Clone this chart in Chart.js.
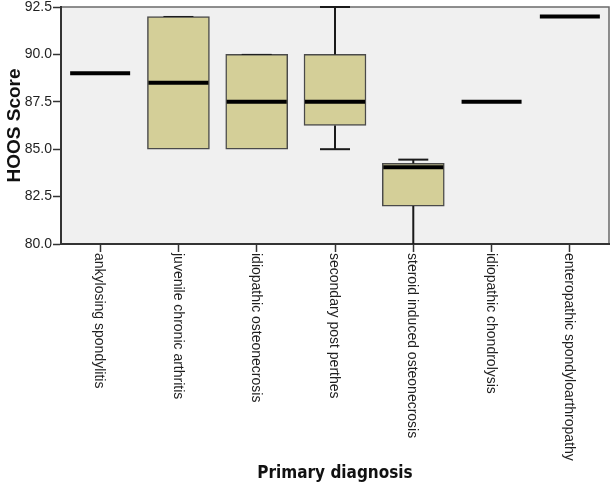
<!DOCTYPE html>
<html lang="en">
<head>
    <title>HOOS Score by Primary diagnosis</title>
    <script src="https://cdn.jsdelivr.net/npm/chart.js"></script>
    <style>
        body { margin: 0; background: #ffffff; }
    </style>
</head>
<body>
    <canvas id="myChart" width="615" height="489"></canvas>
    <script>
        const diagnoses = [
            'ankylosing spondylitis',
            'juvenile chronic arthritis',
            'idiopathic osteonecrosis',
            'secondary post perthes',
            'steroid induced osteonecrosis',
            'idiopathic chondrolysis',
            'enteropathic spondyloarthropathy'
        ];
        // box plot summaries (null = no box, one case only)
        const minValues = [89, 85, 85, 85, 80, 87.5, 92];
        const q1Values = [null, 85, 85, 86.25, 82, null, null];
        const medianValues = [89, 88.5, 87.5, 87.5, 84.05, 87.5, 92];
        const q3Values = [null, 92, 90, 90, 84.25, null, null];
        const maxValues = [89, 92, 90, 92.5, 84.45, 87.5, 92];
        const yTicks = [80, 82.5, 85, 87.5, 90, 92.5];

        const boxFill = '#d4cf98';
        const tickFont = '14px "Liberation Sans", Arial, sans-serif';

        // grey plot panel with a thin frame
        const panelPlugin = {
            id: 'panel',
            beforeDraw(chart) {
                const { ctx, chartArea: a } = chart;
                ctx.save();
                ctx.fillStyle = '#f0f0f0';
                ctx.fillRect(a.left, a.top, a.right - a.left, a.bottom - a.top);
                ctx.strokeStyle = '#6a6a6a';
                ctx.lineWidth = 1.5;
                ctx.strokeRect(a.left, a.top, a.right - a.left, a.bottom - a.top);
                ctx.restore();
            }
        };

        // whiskers, caps and medians
        const boxPlugin = {
            id: 'boxes',
            afterDatasetsDraw(chart) {
                const { ctx } = chart;
                const x = chart.scales.x, y = chart.scales.y;
                ctx.save();
                diagnoses.forEach((d, i) => {
                    const cx = x.getPixelForTick(i);
                    if (q1Values[i] !== null) {
                        const top = y.getPixelForValue(maxValues[i]);
                        const bottom = y.getPixelForValue(minValues[i]);
                        ctx.strokeStyle = '#1a1a1a';
                        ctx.lineWidth = 2;
                        ctx.beginPath();
                        ctx.moveTo(cx, y.getPixelForValue(q3Values[i]));
                        ctx.lineTo(cx, top);
                        ctx.moveTo(cx, y.getPixelForValue(q1Values[i]));
                        ctx.lineTo(cx, bottom);
                        ctx.stroke();
                        // caps; thinner where they sit on the box edge
                        ctx.lineWidth = maxValues[i] > q3Values[i] ? 2 : 1;
                        ctx.beginPath();
                        ctx.moveTo(cx - 15, top);
                        ctx.lineTo(cx + 15, top);
                        ctx.stroke();
                        if (minValues[i] < q1Values[i] && minValues[i] > y.min) {
                            ctx.lineWidth = 2;
                            ctx.beginPath();
                            ctx.moveTo(cx - 15, bottom);
                            ctx.lineTo(cx + 15, bottom);
                            ctx.stroke();
                        }
                    }
                    ctx.strokeStyle = '#000';
                    ctx.lineWidth = 4;
                    ctx.beginPath();
                    const my = y.getPixelForValue(medianValues[i]);
                    ctx.moveTo(cx - 30, my);
                    ctx.lineTo(cx + 30, my);
                    ctx.stroke();
                });
                ctx.restore();
            }
        };

        // category labels turned clockwise, reading downwards
        const xLabelPlugin = {
            id: 'xLabels',
            afterDraw(chart) {
                const { ctx, chartArea: a } = chart;
                const x = chart.scales.x;
                ctx.save();
                ctx.font = tickFont;
                ctx.fillStyle = '#1f1f1f';
                ctx.textAlign = 'left';
                ctx.textBaseline = 'middle';
                diagnoses.forEach((d, i) => {
                    ctx.save();
                    ctx.translate(x.getPixelForTick(i) - 1, a.bottom + 9);
                    ctx.rotate(Math.PI / 2);
                    ctx.fillText(d, 0, 0);
                    ctx.restore();
                });
                ctx.restore();
            }
        };

        const ctx = document.getElementById('myChart').getContext('2d');
        const chart = new Chart(ctx, {
            type: 'bar',
            data: {
                labels: diagnoses,
                datasets: [{
                    label: 'HOOS Score',
                    data: diagnoses.map((d, i) => q1Values[i] === null ? null : [q1Values[i], q3Values[i]]),
                    backgroundColor: boxFill,
                    borderColor: '#4a4a4a',
                    borderWidth: 1.5,
                    borderSkipped: false,
                    barThickness: 62
                }]
            },
            options: {
                responsive: false,
                animation: false,
                layout: { padding: { top: 7, right: 6, left: 0, bottom: 0 } },
                plugins: {
                    legend: { display: false },
                    tooltip: { enabled: false }
                },
                scales: {
                    x: {
                        grid: { offset: false, drawOnChartArea: false, tickLength: 8, color: '#333', tickWidth: 1.5 },
                        border: { color: '#333', width: 2 },
                        ticks: { color: 'transparent', font: { size: 14 }, autoSkip: false, minRotation: 90, maxRotation: 90 },
                        title: {
                            display: true,
                            text: 'Primary diagnosis',
                            color: '#111',
                            font: { family: '"DejaVu Sans Condensed", "DejaVu Sans", sans-serif', size: 17, weight: 'bold' },
                            padding: { top: 0, bottom: 5 }
                        },
                        afterFit(s) {
                            s.height = 245;
                            s.paddingLeft = 0;
                            s.paddingRight = 0;
                        }
                    },
                    y: {
                        min: 80,
                        max: 92.5,
                        afterBuildTicks(s) {
                            s.ticks = yTicks.map(v => ({ value: v }));
                        },
                        grid: { drawOnChartArea: false, tickLength: 8, color: '#333', tickWidth: 1.5 },
                        border: { color: '#333', width: 2 },
                        ticks: {
                            color: '#1f1f1f',
                            padding: 1,
                            font: { family: '"Liberation Sans", Arial, sans-serif', size: 14 },
                            callback: v => Number(v).toFixed(1)
                        },
                        title: {
                            display: true,
                            text: 'HOOS Score',
                            color: '#111',
                            font: { family: '"Liberation Sans", Arial, sans-serif', size: 19, weight: 'bold' },
                            padding: { top: 3, bottom: 0 }
                        },
                        afterFit(s) {
                            s.width = 61;
                            s.paddingTop = 0;
                            s.paddingBottom = 0;
                        }
                    }
                }
            },
            plugins: [panelPlugin, boxPlugin, xLabelPlugin]
        });
    </script>
</body>
</html>
